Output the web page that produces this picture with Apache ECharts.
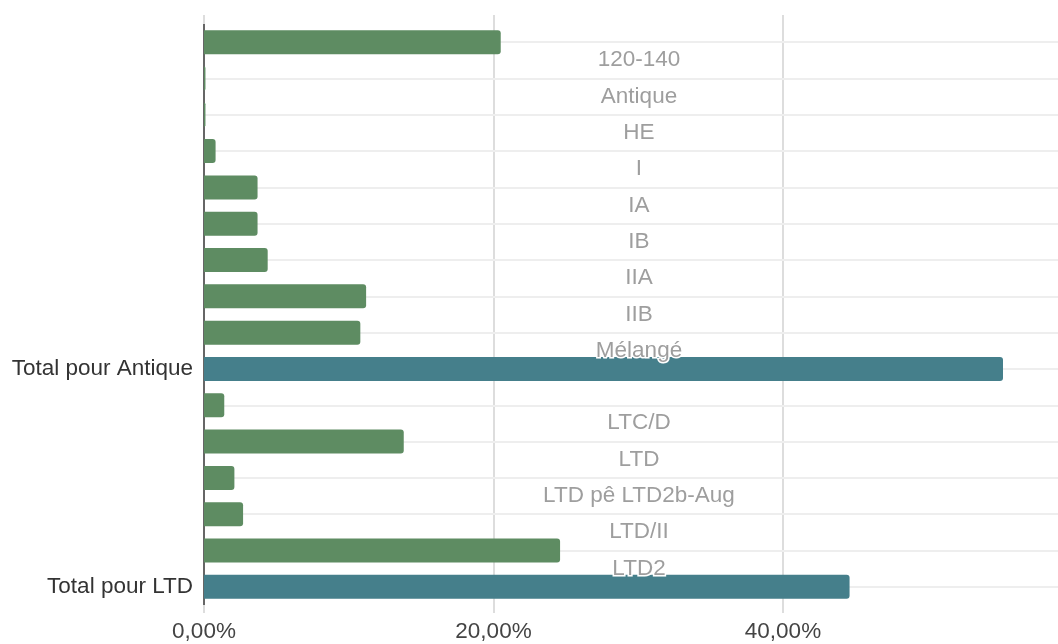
<!DOCTYPE html>
<html>
<head>
<meta charset="utf-8">
<script src="https://cdn.jsdelivr.net/npm/echarts@6/dist/echarts.min.js"></script>
<style>
  html, body { margin: 0; padding: 0; background: #ffffff; }
  #chart { width: 1058px; height: 644px; }
</style>
</head>
<body>
<div id="chart"></div>
<script>
// catégories (de haut en bas)
const categories = [
  '120-140', 'Antique', 'HE', 'I', 'IA', 'IB', 'IIA', 'IIB', 'Mélangé',
  'Total pour Antique',
  'LTC/D', 'LTD', 'LTD pê LTD2b-Aug', 'LTD/II', 'LTD2',
  'Total pour LTD'
];
// parts en %
const shares = [
  20.5, 0.1, 0.1, 0.8, 3.7, 3.7, 4.4, 11.2, 10.8,
  55.2,
  1.4, 13.8, 2.1, 2.7, 24.6,
  44.6
];
// graduations de l'axe (le max est coupé au bord droit)
const xTicks = [0, 20, 40];
const xMax = 59;

const isTotal = name => name.indexOf('Total') === 0;
const fontFamily = 'Liberation Sans, Arial, sans-serif';

const myChart = echarts.init(document.getElementById('chart'));
const option = {
  animation: false,
  grid: { left: 204, right: 0, top: 24, bottom: 39 },
  xAxis: [
    {
      type: 'value',
      min: xTicks[0],
      max: xMax,
      interval: xTicks[1] - xTicks[0],
      axisLine: { show: false },
      axisTick: { show: true, customValues: xTicks, length: 8, lineStyle: { color: '#dddddd', width: 2 } },
      splitLine: { lineStyle: { color: '#dddddd', width: 2 } },
      axisLabel: {
        margin: 15,
        fontSize: 22.5,
        fontFamily: fontFamily,
        color: '#444444',
        showMaxLabel: false,
        formatter: v => v.toFixed(2).replace('.', ',') + '%'
      }
    },
    {
      // ticks du haut seulement
      type: 'value',
      position: 'top',
      min: xTicks[0],
      max: xMax,
      interval: xTicks[1] - xTicks[0],
      axisLine: { show: false },
      axisTick: { show: true, customValues: xTicks, length: 9, lineStyle: { color: '#dddddd', width: 2 } },
      splitLine: { show: false },
      axisLabel: { show: false }
    }
  ],
  yAxis: [
    {
      type: 'category',
      data: categories,
      inverse: true,
      axisLine: { lineStyle: { color: '#666666', width: 2 } },
      axisTick: { show: false },
      axisLabel: {
        margin: 11,
        fontSize: 22.5,
        fontFamily: fontFamily,
        color: '#333333',
        formatter: v => (isTotal(v) ? v : '')
      }
    },
    {
      // libellés gris au centre du graphique, décalés d'une demi-ligne
      type: 'category',
      data: categories,
      inverse: true,
      position: 'left',
      z: 10,
      axisLine: { show: false },
      axisTick: { show: false },
      splitLine: { show: false },
      axisLabel: {
        align: 'center',
        verticalAlign: 'top',
        lineHeight: 36,
        margin: -435,
        fontSize: 22.5,
        fontFamily: fontFamily,
        color: '#9e9e9e',
        textBorderColor: '#ffffff',
        textBorderWidth: 3,
        formatter: v => (isTotal(v) ? '' : v)
      }
    }
  ],
  series: [
    {
      // lignes horizontales au centre de chaque catégorie
      type: 'line',
      data: [],
      z: 1,
      silent: true,
      markLine: {
        silent: true,
        z: 1,
        symbol: 'none',
        label: { show: false },
        lineStyle: { color: '#eeeeee', type: 'solid', width: 2 },
        data: categories.map((c, i) => ({ yAxis: i }))
      }
    },
    {
      type: 'bar',
      data: shares,
      z: 3,
      barWidth: 24,
      itemStyle: {
        borderRadius: [0, 3, 3, 0],
        color: p => (isTotal(p.name) ? '#457f8b' : '#5e8c62')
      }
    }
  ]
};

myChart.setOption(option);
</script>
</body>
</html>
